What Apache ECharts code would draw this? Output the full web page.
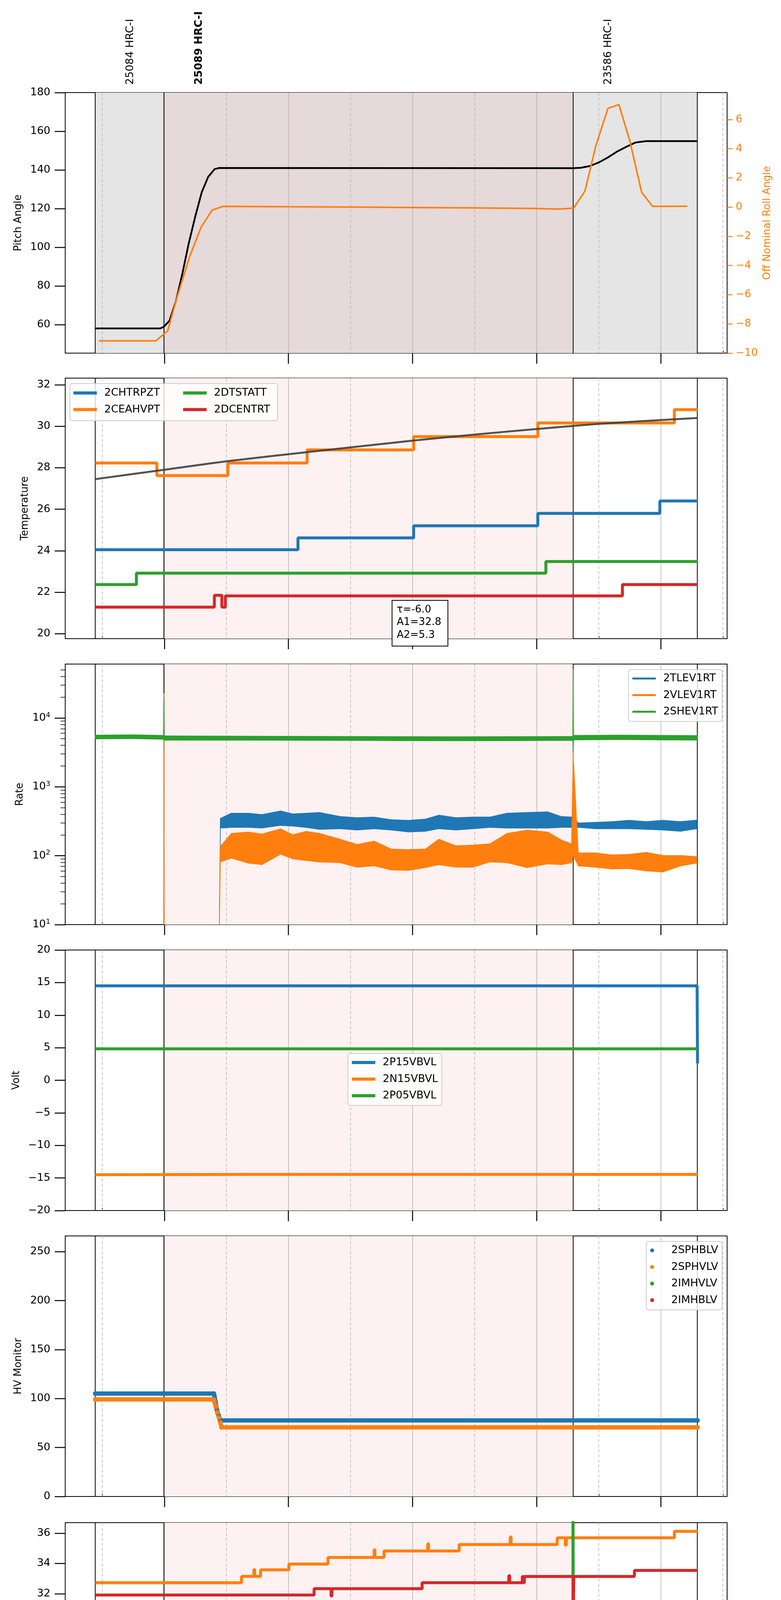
<!DOCTYPE html>
<html lang="en">
<head>
<meta charset="UTF-8">
<title>HRC obsid summary</title>
<script src="https://cdn.jsdelivr.net/npm/echarts@6/dist/echarts.min.js"></script>
<style>
  body { margin: 0; background: #fff; }
  #main { width: 2000px; height: 5400px; }
</style>
</head>
<body>
<div id="main"></div>
<script type="text/javascript">
    // time is minutes after 2021-07-10 20:00
    var xMin = 12.1, xMax = 332.0;
    var hourTicks = [60, 120, 180, 240, 300];
    var hourLabels = ['21h', '22h', '23h', '00h', '01h'];
    var halfTicks = [30, 90, 150, 210, 270, 330];
    var obsStart = [26.6, 59.8, 257.6];
    var obsStop = [59.8, 257.6, 317.6];
    var obsNames = ['25084 HRC-I', '25089 HRC-I', '23586 HRC-I'];
    var obsCurrent = 1;

    // pitch / roll
    var pitchT = [26.6, 58.1, 59.8, 62.5, 65.6, 68.7, 71.8, 75.0, 78.1, 81.2, 84.3, 86.5, 257.6, 261.3, 265.7, 270.1, 274.5, 279.0, 283.4, 287.8, 292.9, 317.6];
    var pitchV = [58.0, 58.0, 58.9, 62.0, 72.1, 86.2, 102.0, 116.1, 128.5, 136.4, 140.4, 141.0, 140.9, 141.1, 142.0, 143.9, 146.5, 149.6, 152.0, 154.2, 154.9, 154.9];
    var rollT = [28.3, 55.9, 61.6, 66.2, 72.2, 77.8, 83.1, 88.4, 120, 150, 180, 210, 240, 250, 257.8, 263.3, 268.5, 274.4, 279.7, 285.0, 290.7, 296.0, 312.8];
    var rollV = [-9.16, -9.16, -8.48, -6.15, -3.41, -1.37, -0.21, 0.05, 0.02, 0.0, -0.03, -0.06, -0.1, -0.14, -0.08, 1.10, 4.17, 6.76, 7.02, 4.52, 1.0, 0.05, 0.06];

    // temperature
    var chtrT = [26.6, 124.6, 180.5, 240.5, 299.5, 317.7];
    var chtrV = [24.05, 24.62, 25.2, 25.8, 26.4, 26.4];
    var ceahT = [26.6, 56.4, 90.7, 129.0, 180.5, 240.5, 306.5, 317.7];
    var ceahV = [28.23, 27.62, 28.23, 28.86, 29.5, 30.16, 30.8, 30.8];
    var dtstT = [26.6, 46.5, 244.4, 317.7];
    var dtstV = [22.37, 22.92, 23.48, 23.48];
    var dcenT = [26.6, 84.2, 87.8, 89.5, 281.4, 317.7];
    var dcenV = [21.28, 21.85, 21.28, 21.82, 22.37, 22.37];
    var fitT = [26.6, 59.8, 90.7, 129.0, 180.5, 210, 240.5, 271, 317.7];
    var fitV = [27.45, 27.9, 28.32, 28.75, 29.31, 29.6, 29.87, 30.12, 30.4];
    var fitText = ['\u03c4=-6.0', 'A1=32.8', 'A2=5.3'];

    // rates (band = low / high envelope of the noisy trace)
    var tlevT = [26.6, 86.2, 87.1, 92.4, 100.6, 107.2, 116.2, 122.0, 128.5, 135.1, 145.0, 153.2, 161.4, 169.7, 177.9, 186.1, 192.7, 200.9, 209.1, 217.3, 225.6, 235.4, 245.3, 251.8, 256.8, 260.1, 268.3, 276.5, 284.7, 292.9, 301.1, 309.4, 317.4];
    var tlevLo = [1, 1, 252, 257, 257, 252, 275, 269, 257, 241, 246, 236, 246, 236, 221, 226, 246, 236, 246, 257, 252, 252, 252, 257, 257, 257, 246, 246, 246, 241, 236, 226, 246];
    var tlevHi = [1, 1, 349, 415, 415, 397, 447, 406, 415, 425, 372, 357, 365, 334, 327, 341, 389, 357, 365, 365, 415, 425, 434, 372, 365, 299, 306, 313, 327, 313, 327, 313, 330];
    var vlevT = [26.6, 59.6, 59.8, 60.0, 86.2, 87.1, 92.4, 100.6, 107.2, 116.2, 122.0, 128.5, 135.1, 145.0, 153.2, 161.4, 169.7, 177.9, 186.1, 192.7, 200.9, 209.1, 217.3, 225.6, 235.4, 245.3, 251.8, 256.8, 257.6, 260.1, 268.3, 276.5, 284.7, 292.9, 301.1, 309.4, 317.4];
    var vlevLo = [1, 1, 1, 1, 1, 81, 92, 78, 74, 105, 90, 85, 81, 79, 68, 71, 62, 61, 67, 74, 68, 68, 81, 79, 67, 76, 74, 79, 100, 71, 68, 64, 65, 60, 58, 71, 78];
    var vlevHi = [1, 1, 22800, 1, 1, 137, 211, 221, 207, 246, 202, 226, 211, 174, 146, 163, 125, 123, 125, 174, 140, 143, 149, 211, 236, 221, 170, 149, 3140, 110, 110, 103, 105, 112, 101, 101, 97];
    var shevT = [26.6, 45, 59.6, 59.8, 60.0, 100, 150, 200, 257.4, 257.6, 257.8, 280, 317.6];
    var shevLo = [4950, 5000, 4900, 4900, 4750, 4750, 4700, 4650, 4700, 3140, 4800, 4850, 4750];
    var shevHi = [5650, 5700, 5600, 18900, 5500, 5450, 5400, 5350, 5400, 50900, 5600, 5650, 5550];
    var rateMinor = [20, 30, 40, 50, 60, 70, 80, 90, 200, 300, 400, 500, 600, 700, 800, 900,
                     2000, 3000, 4000, 5000, 6000, 7000, 8000, 9000, 20000, 30000, 40000, 50000];

    // voltages
    var p15T = [26.6, 317.5, 317.7];
    var p15V = [14.5, 14.5, 2.6];
    var n15T = [26.6, 59.8, 100, 150, 200, 250, 317.7];
    var n15V = [-14.5, -14.48, -14.45, -14.46, -14.45, -14.45, -14.45];
    var p05T = [26.6, 317.7];
    var p05V = [4.83, 4.83];

    // HV monitor
    var sphbT = [26.6, 83.9, 84.2, 84.7, 85.4, 86.4, 87.1, 317.7];
    var sphbV = [105.1, 105.1, 102.8, 97.2, 88.6, 82.0, 77.7, 77.7];
    var sphvT = [26.6, 83.9, 84.2, 84.9, 85.6, 86.4, 87.1, 87.6, 317.7];
    var sphvV = [99.1, 99.1, 97.2, 91.5, 85.8, 80.7, 75.4, 70.6, 70.6];

    // detector temperatures
    var spinT = [26.6, 206.4, 207.0, 207.6, 208.2, 209.3, 257.5, 257.9, 317.7];
    var spinV = [21.0, 21.69, 21.0, 21.69, 21.0, 21.69, 22.33, 21.69, 21.69];
    var sphaT = [26.6, 97.3, 103.3, 103.7, 106.5, 120.2, 139.1, 161.4, 161.8, 166.2, 187.3, 187.7, 202.5, 227.2, 227.6, 249.9, 253.8, 254.3, 306.5, 317.7];
    var sphaV = [32.73, 33.15, 33.6, 33.15, 33.58, 33.96, 34.4, 34.9, 34.4, 34.82, 35.3, 34.82, 35.25, 35.75, 35.25, 35.69, 35.2, 35.69, 36.12, 36.12];
    var iminT = [26.6, 257.5, 257.8, 290.3, 290.7, 291.3, 291.8, 292.6, 293.1, 295.8, 317.7];
    var iminV = [22.42, 40, 22.42, 23.14, 22.42, 23.14, 22.42, 23.14, 22.42, 23.14, 23.14];
    var imhvT = [26.6, 132.4, 140.6, 141.0, 184.6, 226.5, 226.9, 233.0, 233.4, 234.0, 257.6, 257.9, 287.2, 317.7];
    var imhvV = [31.92, 32.34, 31.85, 32.34, 32.73, 33.2, 32.73, 33.14, 32.73, 33.14, 29.52, 33.14, 33.54, 33.54];

    // FEA temperatures
    var fhtrT = [26.6, 159.2, 317.7];
    var fhtrV = [25.8, 26.39, 26.39];
    var fradT = [26.6, 78.1, 95.8, 184.6, 317.7];
    var fradV = [21.26, 20.73, 21.26, 21.81, 21.81];
    var fepT = [26.6, 202.7, 203.5, 204.3, 205.1, 205.9, 206.7, 207.5, 212.2, 212.6, 215.6, 216.0, 227.5, 227.9, 257.7, 258.1, 317.7];
    var fepV = [26.96, 27.78, 26.96, 27.78, 26.96, 27.78, 26.96, 27.78, 26.96, 27.78, 26.96, 27.78, 26.96, 27.78, 31, 27.78, 27.78];
    var fe00T = [26.6, 100.2, 100.6, 102.6, 103.0, 109.4, 109.8, 115.0, 115.4, 122.5, 122.9, 130.4, 131.0, 131.4, 132.0, 132.6, 133.6, 134.2, 135.8, 136.4,
                 149.3, 150.0, 152.2, 152.6, 155.4, 155.8, 161.9, 162.3, 165.5, 165.9, 169.2, 169.6, 178.1, 178.5, 179.3, 179.7, 183.7, 184.1,
                 202.5, 202.9, 214.2, 214.6, 221.9, 222.3, 237.9, 238.3, 240.0, 240.4, 244.2, 244.6, 254.6, 255.4, 256.2, 257.0, 257.9, 258.3,
                 259.5, 260.3, 275.8, 276.6, 277.4, 278.2, 279.8, 280.6, 282.2, 283.0, 284.6, 285.6, 289.0, 289.8, 291.4, 292.2, 293.8, 294.6,
                 296.2, 297.0, 299.8, 300.3, 301.5, 302.3, 303.9, 304.7, 306.3, 307.1, 308.7, 309.5, 311.9, 312.7, 317.7];
    var fe00V = [24.95, 22.96, 24.95, 25.3, 24.95, 24.26, 24.95, 26.01, 24.95, 25.3, 24.95, 25.3, 24.95, 25.3, 24.95, 25.3, 24.95, 25.3, 24.95, 25.3,
                 24.95, 25.3, 26.71, 25.3, 24.26, 25.3, 24.95, 25.3, 24.95, 25.3, 24.95, 25.3, 25.67, 25.3, 24.57, 25.3, 24.57, 25.3,
                 26.01, 25.3, 26.01, 25.3, 24.95, 25.3, 25.67, 25.3, 24.95, 25.3, 24.95, 25.3, 25.65, 25.3, 25.65, 25.3, 19.0, 25.65,
                 25.3, 25.65, 25.3, 25.65, 25.3, 25.65, 25.3, 25.65, 25.3, 25.65, 25.3, 25.65, 25.3, 25.65, 25.3, 25.65, 25.3, 25.65,
                 25.3, 25.65, 24.55, 25.65, 25.3, 25.65, 25.3, 25.65, 25.3, 25.65, 25.3, 25.65, 25.3, 25.65, 25.65];

    var C = { blue: '#1f77b4', orange: '#ff7f0e', green: '#2ca02c', red: '#d62728' };
    var FONT = 'DejaVu Sans';
    var tops = [237, 968, 1700, 2432, 3164, 3898, 4630];
    var panelH = 667;
    var firstY = [0, 2, 3, 5, 6, 7, 8];
    var yBase = [60, 20, 100, 0, 50, 20, 20];
    var shadeColors = ['#e5e5e5', '#e5d9d9', '#fdf1f1'];
    var guideStyles = [
        { stroke: '#b5b5b5', lineWidth: 1.5, lineDash: [8, 5] },
        { stroke: '#b0b0b0', lineWidth: 1.5 },
        { stroke: '#000', lineWidth: 2 }
    ];

    function zip(ts, vs) {
        return ts.map(function (t, i) { return [t, vs[i]]; });
    }
    function minus(v) {
        return String(v).replace('-', '\u2212');
    }
    function line(name, color, ts, vs, grid, yi, opt) {
        var s = {
            type: 'line', name: name, color: color, xAxisIndex: grid * 2, yAxisIndex: yi,
            data: zip(ts, vs), showSymbol: false, lineStyle: { width: 7.5 }, z: 3
        };
        for (var k in opt) s[k] = opt[k];
        return s;
    }
    // noisy rate traces drawn as a filled band between low and high envelope
    function band(name, color, ts, lo, hi, grid, yi, z) {
        return {
            type: 'custom', name: name, color: color, itemStyle: { color: color },
            xAxisIndex: grid * 2, yAxisIndex: yi, z: z, clip: true,
            data: ts.map(function (t, i) { return [t, lo[i], hi[i]]; }),
            encode: { x: 0, y: [1, 2] },
            renderItem: function (params, api) {
                var i = params.dataIndexInside;
                if (i >= params.dataInsideLength - 1) return;
                var pts = [
                    api.coord([api.value(0, i), api.value(1, i)]),
                    api.coord([api.value(0, i + 1), api.value(1, i + 1)]),
                    api.coord([api.value(0, i + 1), api.value(2, i + 1)]),
                    api.coord([api.value(0, i), api.value(2, i)])
                ];
                return { type: 'polygon', shape: { points: pts },
                         style: { fill: color, stroke: color, lineWidth: 1.5 } };
            }
        };
    }

    function yAx(grid, min, max, ticks, name, gap, extra) {
        var a = {
            type: 'value', gridIndex: grid, min: min, max: max, name: name,
            nameLocation: 'middle', nameGap: gap, nameRotate: 90,
            nameTextStyle: { fontSize: 26, color: '#000', fontFamily: FONT },
            axisLine: { show: false, onZero: false }, splitLine: { show: false },
            axisTick: { show: true, length: 27, customValues: ticks, lineStyle: { color: '#000', width: 2.5 } },
            axisLabel: { customValues: ticks, fontSize: 27, color: '#000', margin: 38, formatter: minus }
        };
        for (var k in extra) a[k] = extra[k];
        return a;
    }

    function range(a, b, s) {
        var r = [];
        for (var v = a; v <= b + 1e-9; v += s) r.push(v);
        return r;
    }

    var myChart = echarts.init(document.getElementById('main'), null, { renderer: 'canvas' });

    var grids = tops.map(function (t) {
        return { left: 167, right: 138, top: t, height: panelH, show: true,
                 borderColor: '#000', borderWidth: 2, backgroundColor: 'transparent' };
    });

    var xAxes = [];
    tops.forEach(function (t, i) {
        var last = i === tops.length - 1;
        xAxes.push({
            type: 'value', gridIndex: i, min: xMin, max: xMax, position: 'bottom',
            axisLine: { show: false, onZero: false }, splitLine: { show: false },
            axisTick: { show: true, customValues: hourTicks, length: 27, lineStyle: { color: '#000', width: 2.5 } },
            axisLabel: { show: last, customValues: hourTicks, fontSize: 27, color: '#000', margin: 32,
                         formatter: function (v) { return hourLabels[hourTicks.indexOf(v)]; } },
            name: last ? '2021-07-10 (191)' : '', nameLocation: 'middle', nameGap: 67,
            nameTextStyle: { fontSize: 30, color: '#000', fontFamily: FONT }
        });
        xAxes.push({
            type: 'value', gridIndex: i, min: xMin, max: xMax, position: 'bottom',
            axisLine: { show: false, onZero: false }, splitLine: { show: false },
            axisTick: { show: true, inside: true, customValues: halfTicks, length: 6, lineStyle: { color: '#000', width: 2 } },
            axisLabel: { show: last, customValues: halfTicks, fontSize: 18, color: '#000', margin: 4,
                         formatter: function () { return '30'; } }
        });
    });

    var yAxes = [
        yAx(0, 45.2, 180, range(60, 180, 20), 'Pitch Angle', 107),
        yAx(0, -10, 7.84, range(-10, 6, 2), 'Off Nominal Roll Angle', 87, {
            position: 'right',
            nameTextStyle: { fontSize: 26, color: C.orange, fontFamily: FONT },
            axisTick: { show: true, length: 14, customValues: range(-10, 6, 2), lineStyle: { color: C.orange, width: 2.5 } },
            axisLabel: { customValues: range(-10, 6, 2), fontSize: 27, color: C.orange, margin: 22, formatter: minus }
        }),
        yAx(1, 19.76, 32.32, range(20, 32, 2), 'Temperature', 90),
        {
            type: 'log', logBase: 10, gridIndex: 2, min: 10, max: 60600, name: 'Rate',
            nameLocation: 'middle', nameGap: 103, nameRotate: 90,
            nameTextStyle: { fontSize: 26, color: '#000', fontFamily: FONT },
            axisLine: { show: false, onZero: false }, splitLine: { show: false }, minorTick: { show: false },
            axisTick: { show: true, length: 27, lineStyle: { color: '#000', width: 2.5 } },
            axisLabel: {
                fontSize: 27, color: '#000', margin: 38, showMaxLabel: false,
                formatter: function (v) { return '10{s|' + Math.round(Math.log10(v)) + '}'; },
                rich: { s: { fontSize: 18, padding: [0, 0, 14, 0], color: '#000' } }
            }
        },
        {
            type: 'log', logBase: 10, gridIndex: 2, min: 10, max: 60600, position: 'left',
            axisLine: { show: false, onZero: false }, splitLine: { show: false }, axisLabel: { show: false },
            axisTick: { show: true, length: 12, customValues: rateMinor, lineStyle: { color: '#000', width: 1.5 } }
        },
        yAx(3, -20, 20, range(-20, 20, 5), 'Volt', 112),
        yAx(4, 0, 266, range(0, 250, 50), 'HV Monitor', 107),
        yAx(5, 19.51, 36.69, range(20, 36, 2), 'Detector Temp', 90),
        yAx(6, 19.77, 29.23, range(20, 28, 2), 'FEA Temp', 90)
    ];

    // background shading and vertical guide lines for every panel
    var series = [];
    tops.forEach(function (t, i) {
        var shade = [];
        obsStart.forEach(function (s, k) {
            if (i === 0) shade.push([s, obsStop[k], k === obsCurrent ? 1 : 0]);
            else if (k === obsCurrent) shade.push([s, obsStop[k], 2]);
        });
        var guides = [];
        halfTicks.forEach(function (v) { guides.push([v, 0]); });
        hourTicks.forEach(function (v) { guides.push([v, 1]); });
        obsStart.concat([obsStop[obsStop.length - 1]]).forEach(function (v) { guides.push([v, 2]); });

        series.push({
            type: 'custom', name: 'shade' + i, xAxisIndex: i * 2, yAxisIndex: firstY[i], silent: true, z: 1,
            data: shade, encode: { x: [0, 1] },
            renderItem: function (params, api) {
                var cs = params.coordSys;
                var x0 = api.coord([api.value(0), yBase[i]])[0];
                var x1 = api.coord([api.value(1), yBase[i]])[0];
                return { type: 'rect', shape: { x: x0, y: cs.y, width: x1 - x0, height: cs.height },
                         style: { fill: shadeColors[api.value(2)] } };
            }
        });
        series.push({
            type: 'custom', name: 'guide' + i, xAxisIndex: i * 2, yAxisIndex: firstY[i], silent: true, z: 2,
            data: guides, encode: { x: 0 },
            renderItem: function (params, api) {
                var cs = params.coordSys;
                var x = api.coord([api.value(0), yBase[i]])[0];
                return { type: 'line', shape: { x1: x, y1: cs.y, x2: x, y2: cs.y + cs.height },
                         style: guideStyles[api.value(1)] };
            }
        });
    });

    series.push(line('Pitch', '#000', pitchT, pitchV, 0, 0, { lineStyle: { width: 4.5 }, z: 4 }));
    series.push(line('Roll', C.orange, rollT, rollV, 0, 1, { lineStyle: { width: 4 }, z: 5 }));

    series.push(line('2CHTRPZT', C.blue, chtrT, chtrV, 1, 2, { step: 'end' }));
    series.push(line('2CEAHVPT', C.orange, ceahT, ceahV, 1, 2, { step: 'end' }));
    series.push(line('2DTSTATT', C.green, dtstT, dtstV, 1, 2, { step: 'end' }));
    series.push(line('2DCENTRT', C.red, dcenT, dcenV, 1, 2, { step: 'end' }));
    series.push(line('fit', '#3f3f3f', fitT, fitV, 1, 2, { smooth: 0.3, lineStyle: { width: 5, opacity: 0.9 }, z: 6 }));

    series.push(band('2TLEV1RT', C.blue, tlevT, tlevLo, tlevHi, 2, 3, 3));
    series.push(band('2VLEV1RT', C.orange, vlevT, vlevLo, vlevHi, 2, 3, 4));
    series.push(band('2SHEV1RT', C.green, shevT, shevLo, shevHi, 2, 3, 5));

    series.push(line('2P15VBVL', C.blue, p15T, p15V, 3, 5, {}));
    series.push(line('2N15VBVL', C.orange, n15T, n15V, 3, 5, {}));
    series.push(line('2P05VBVL', C.green, p05T, p05V, 3, 5, {}));

    var dots = { showSymbol: true, symbol: 'circle', symbolSize: 12, lineStyle: { width: 11 } };
    series.push(line('2SPHBLV', C.blue, sphbT, sphbV, 4, 6, dots));
    series.push(line('2SPHVLV', C.orange, sphvT, sphvV, 4, 6, dots));
    series.push(line('2IMHVLV', C.green, [], [], 4, 6, dots));
    series.push(line('2IMHBLV', C.red, [], [], 4, 6, dots));

    series.push(line('2SPINATM', C.blue, spinT, spinV, 5, 7, { step: 'end' }));
    series.push(line('2SPHVATM', C.orange, sphaT, sphaV, 5, 7, { step: 'end' }));
    series.push(line('2IMINATM', C.green, iminT, iminV, 5, 7, { step: 'end' }));
    series.push(line('2IMHVATM', C.red, imhvT, imhvV, 5, 7, { step: 'end' }));

    series.push(line('2FHTRMZT', C.blue, fhtrT, fhtrV, 6, 8, { step: 'end' }));
    series.push(line('2FRADPYT', C.orange, fradT, fradV, 6, 8, { step: 'end' }));
    series.push(line('2FEPRATM', C.green, fepT, fepV, 6, 8, { step: 'end' }));
    series.push(line('2FE00ATM', C.red, fe00T, fe00V, 6, 8, { step: 'end' }));

    function legend(names, pos, icon, framed) {
        var l = {
            data: names.map(function (n) { return { name: n, icon: icon }; }),
            orient: 'vertical', selectedMode: false, z: 20,
            itemWidth: 60, itemHeight: icon === 'circle' ? 10 : 8, itemGap: 10.5,
            textStyle: { fontSize: 27, color: '#000', fontFamily: FONT, lineHeight: 32, padding: [0, 0, 0, 14] },
            padding: [7, 10, 9, 10]
        };
        if (framed) {
            l.backgroundColor = 'rgba(255,255,255,0.8)';
            l.borderColor = '#cccccc';
            l.borderWidth = 2;
            l.borderRadius = 6;
        }
        for (var k in pos) l[k] = pos[k];
        return l;
    }
    var legends = [
        legend(['2CHTRPZT', '2CEAHVPT'], { left: 178, top: 983 }, 'rect', false),
        legend(['2DTSTATT', '2DCENTRT'], { left: 459, top: 983 }, 'rect', false),
        legend(['2TLEV1RT', '2VLEV1RT', '2SHEV1RT'], { right: 151, top: 1714, itemHeight: 5 }, 'rect', true),
        legend(['2P15VBVL', '2N15VBVL', '2P05VBVL'], { left: 891, top: 2697 }, 'rect', true),
        legend(['2SPHBLV', '2SPHVLV', '2IMHVLV', '2IMHBLV'], { right: 151, top: 3178 }, 'circle', true),
        legend(['2SPINATM', '2SPHVATM', '2IMINATM', '2IMHVATM'], { right: 151, top: 4141 }, 'rect', true),
        legend(['2FHTRMZT', '2FRADPYT', '2FEPRATM', '2FE00ATM'], { right: 151, top: 4641 }, 'rect', true)
    ];

    var option = {
        animation: false,
        backgroundColor: '#fff',
        textStyle: { fontFamily: FONT },
        grid: grids,
        xAxis: xAxes,
        yAxis: yAxes,
        legend: legends,
        series: series
    };
    myChart.setOption(option);

    // obsid labels above the top panel, and the fit annotation box
    var graphics = [
        { type: 'rect', z: 10, shape: { x: 179, y: 982, width: 532, height: 95, r: 6 },
          style: { fill: 'rgba(255,255,255,0.8)', stroke: '#cccccc', lineWidth: 2 } },
        { type: 'rect', z: 10, shape: { x: 1004, y: 1537, width: 143, height: 117 },
          style: { fill: '#fff', stroke: '#000', lineWidth: 2 } }
    ];
    fitText.forEach(function (s, k) {
        graphics.push({ type: 'text', z: 11, x: 1016, y: 1561 + k * 32.5,
                        style: { text: s, font: '26px "DejaVu Sans"', fill: '#000', textVerticalAlign: 'middle' } });
    });
    obsStart.forEach(function (s, k) {
        var px = myChart.convertToPixel({ xAxisIndex: 0 }, s + 17);
        graphics.push({ type: 'text', z: 11, x: px, y: 217, rotation: Math.PI / 2,
                        style: { text: obsNames[k], fill: '#000', textAlign: 'left', textVerticalAlign: 'middle',
                                 font: (k === obsCurrent ? 'bold ' : '') + '27px "DejaVu Sans"' } });
    });
    myChart.setOption({ graphic: graphics });
</script>
</body>
</html>
